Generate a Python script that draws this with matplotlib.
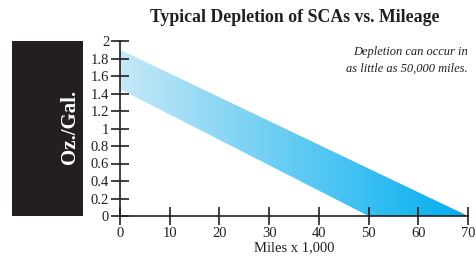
import numpy as np
import matplotlib
matplotlib.use("Agg")
import matplotlib.pyplot as plt
from matplotlib.patches import Polygon, Rectangle
from matplotlib.colors import LinearSegmentedColormap

# data
upper_x = [0, 70]
upper_y = [1.9, 0.0]
lower_x = [0, 50]
lower_y = [1.45, 0.0]
x_ticks = [0, 10, 20, 30, 40, 50, 60, 70]
y_ticks = [0, 0.2, 0.4, 0.6, 0.8, 1, 1.2, 1.4, 1.6, 1.8, 2]
y_tick_labels = ["0", "0.2", "0.4", "0.6", "0.8", "1", "1.2", "1.4", "1.6", "1.8", "2"]

plt.rcParams['font.family'] = ['Liberation Serif', 'DejaVu Serif']

fig = plt.figure(figsize=(4.77, 2.60), dpi=100)
ax = fig.add_axes([120/477, 1-216/260, 348/477, 175/260])
ax.set_xlim(0, 70)
ax.set_ylim(0, 2)
ax.patch.set_alpha(0)

# band polygon
verts = [(upper_x[0], upper_y[0]), (upper_x[1], upper_y[1]),
         (lower_x[1], lower_y[1]), (lower_x[0], lower_y[0])]
poly = Polygon(verts, closed=True, facecolor='none', edgecolor='none')
ax.add_patch(poly)
cmap = LinearSegmentedColormap.from_list('g', ['#c6e8f7', '#00aeef'])
grad = np.linspace(0, 1, 256).reshape(1, -1)
im = ax.imshow(grad, extent=[0, 70, 0, 2], aspect='auto', cmap=cmap, zorder=1, origin='lower')
im.set_clip_path(poly)

for s in ['top', 'right']:
    ax.spines[s].set_visible(False)
for s in ['left', 'bottom']:
    ax.spines[s].set_linewidth(1.2)
    ax.spines[s].set_color('#231f20')
    ax.spines[s].set_zorder(3)

ax.set_xticks(x_ticks)
ax.set_yticks(y_ticks)
ax.set_yticklabels(y_tick_labels)
ax.tick_params(direction='inout', length=13.5, width=1.2, color='#231f20',
               labelsize=10.5, labelcolor='#231f20', pad=1)
ax.set_xlabel('Miles x 1,000', fontsize=10.5, color='#231f20', labelpad=1)

fig.text(295/477, 1-18/260, 'Typical Depletion of SCAs vs. Mileage', ha='center', va='center',
         fontsize=12.8, fontweight='bold', color='#231f20')
fig.text(468/477, 1-52/260, 'Depletion can occur in', ha='right', va='center',
         fontsize=9, style='italic', color='#231f20')
fig.text(468/477, 1-69/260, 'as little as 50,000 miles.', ha='right', va='center',
         fontsize=9, style='italic', color='#231f20')

fig.patches.append(Rectangle((12/477, 1-216/260), 71/477, 175/260, transform=fig.transFigure,
                             facecolor='#231f20', edgecolor='none', figure=fig))
fig.text(70/477, 1-127/260, 'Oz./Gal.', rotation=90, ha='center', va='center',
         fontsize=15, fontweight='bold', color='white')

fig.savefig('out.png', dpi=100)
